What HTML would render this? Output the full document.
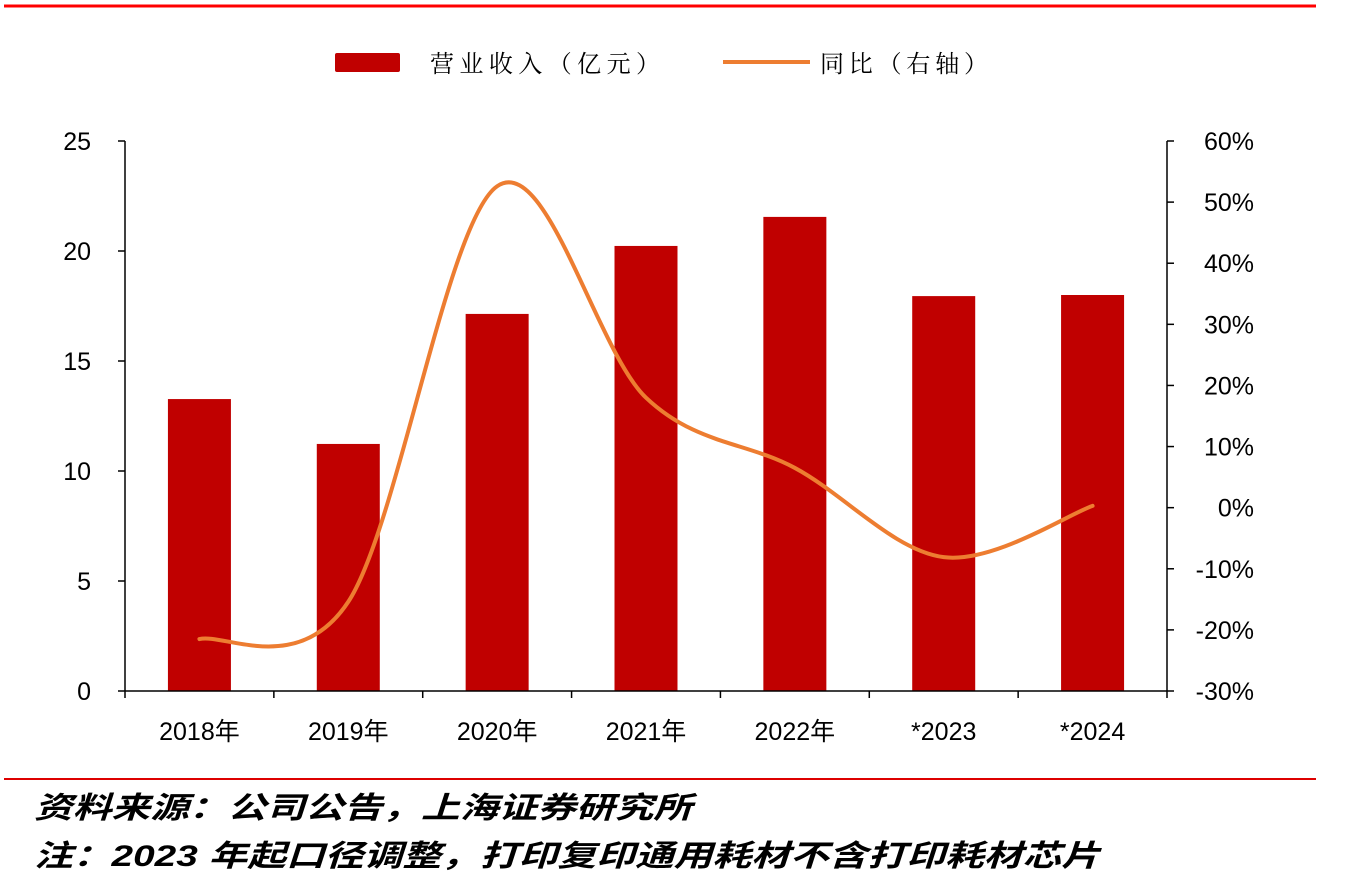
<!DOCTYPE html>
<html><head><meta charset="utf-8"><style>
body{margin:0;background:#fff;width:1354px;height:882px;overflow:hidden;font-family:"Liberation Sans","Noto Sans CJK SC",sans-serif}
</style></head><body>
<svg id="c" width="1354" height="882" xmlns="http://www.w3.org/2000/svg">
<line x1="4" y1="6" x2="1316" y2="6" stroke="#f00" stroke-width="3"/>
<line x1="4" y1="779" x2="1316" y2="779" stroke="#d00" stroke-width="2"/>
<g>
<rect x="335" y="53" width="65" height="19" rx="2" fill="#c00000"/>
<text x="430" y="72" font-size="24" textLength="230" lengthAdjust="spacing" font-family="'Noto Serif CJK SC','Noto Sans CJK SC',sans-serif">营业收入（亿元）</text>
<line x1="723" y1="62" x2="810" y2="62" stroke="#ed7d31" stroke-width="4"/>
<text x="820" y="72" font-size="24" textLength="168" lengthAdjust="spacing" font-family="'Noto Serif CJK SC','Noto Sans CJK SC',sans-serif">同比（右轴）</text>
</g>
<g id="plot"></g>
<text x="34" y="818" font-size="30" textLength="658" lengthAdjust="spacingAndGlyphs" font-style="italic" font-weight="bold" font-family="'Noto Sans CJK SC',sans-serif">资料来源：公司公告，上海证券研究所</text>
<text x="34" y="866" font-size="30" textLength="1066" lengthAdjust="spacingAndGlyphs" font-style="italic" font-weight="bold" font-family="'Liberation Sans','Noto Sans CJK SC',sans-serif">注：2023 年起口径调整，打印复印通用耗材不含打印耗材芯片</text>
</svg>
<script>
const categories=["2018年","2019年","2020年","2021年","2022年","*2023","*2024"];
const revenue=[13.27,11.23,17.14,20.23,21.55,17.95,18.0];
const yoy=[-21.5,-15.4,52.6,18.0,6.5,-8.1,0.3];
const leftTicks=[0,5,10,15,20,25];
const rightTicks=[-30,-20,-10,0,10,20,30,40,50,60];
const NS="http://www.w3.org/2000/svg";
const g=document.getElementById('plot');
const X0=125,X1=1167,Y0=691,Y1=141;
const yL=v=>Y0-(v/25)*(Y0-Y1);
const yR=v=>Y0-((v+30)/90)*(Y0-Y1);
const step=(X1-X0)/categories.length;
const xc=i=>X0+step*(i+0.5);
function mk(t,a){const e=document.createElementNS(NS,t);for(const k in a)e.setAttribute(k,a[k]);g.appendChild(e);return e;}
revenue.forEach((v,i)=>{
 const r=mk('rect',{x:xc(i)-31.5,y:yL(v),width:63,height:Y0-yL(v),fill:'#c00000'});
 
 
});
const al=mk('line',{x1:X0,y1:Y1,x2:X0,y2:Y0,stroke:'#000','stroke-width':1.5});


const ar=mk('line',{x1:X1,y1:Y1,x2:X1,y2:Y0,stroke:'#000','stroke-width':1.5});


const ax=mk('line',{x1:X0,y1:Y0,x2:X1,y2:Y0,stroke:'#000','stroke-width':1.5});


leftTicks.forEach(v=>{
 mk('line',{x1:X0-7,y1:yL(v),x2:X0,y2:yL(v),stroke:'#000','stroke-width':1.5});
 const t=mk('text',{x:91,y:yL(v)+9,'font-size':25,'text-anchor':'end'});t.textContent=v;
 
 
});
rightTicks.forEach(v=>{
 mk('line',{x1:X1,y1:yR(v),x2:X1+7,y2:yR(v),stroke:'#000','stroke-width':1.5});
 const t=mk('text',{x:1254,y:yR(v)+9,'font-size':25,'text-anchor':'end'});t.textContent=v+'%';
 
 
});
for(let i=0;i<=categories.length;i++)mk('line',{x1:X0+step*i,y1:Y0,x2:X0+step*i,y2:Y0+7,stroke:'#000','stroke-width':1.5});
categories.forEach((c,i)=>{
 const t=mk('text',{x:xc(i),y:740,'font-size':25,'text-anchor':'middle'});t.textContent=c;
 
 
});
const P=yoy.map((v,i)=>[xc(i),yR(v)]);
let d=`M${P[0][0]},${P[0][1]}`;
for(let i=0;i<P.length-1;i++){
 const p0=P[Math.max(i-1,0)],p1=P[i],p2=P[i+1],p3=P[Math.min(i+2,P.length-1)],k=6;
 d+=` C${p1[0]+(p2[0]-p0[0])/k},${p1[1]+(p2[1]-p0[1])/k} ${p2[0]-(p3[0]-p1[0])/k},${p2[1]-(p3[1]-p1[1])/k} ${p2[0]},${p2[1]}`;
}
const ln=mk('path',{d:d,fill:'none',stroke:'#ed7d31','stroke-width':4,'stroke-linecap':'round'});


</script>
</body></html>
